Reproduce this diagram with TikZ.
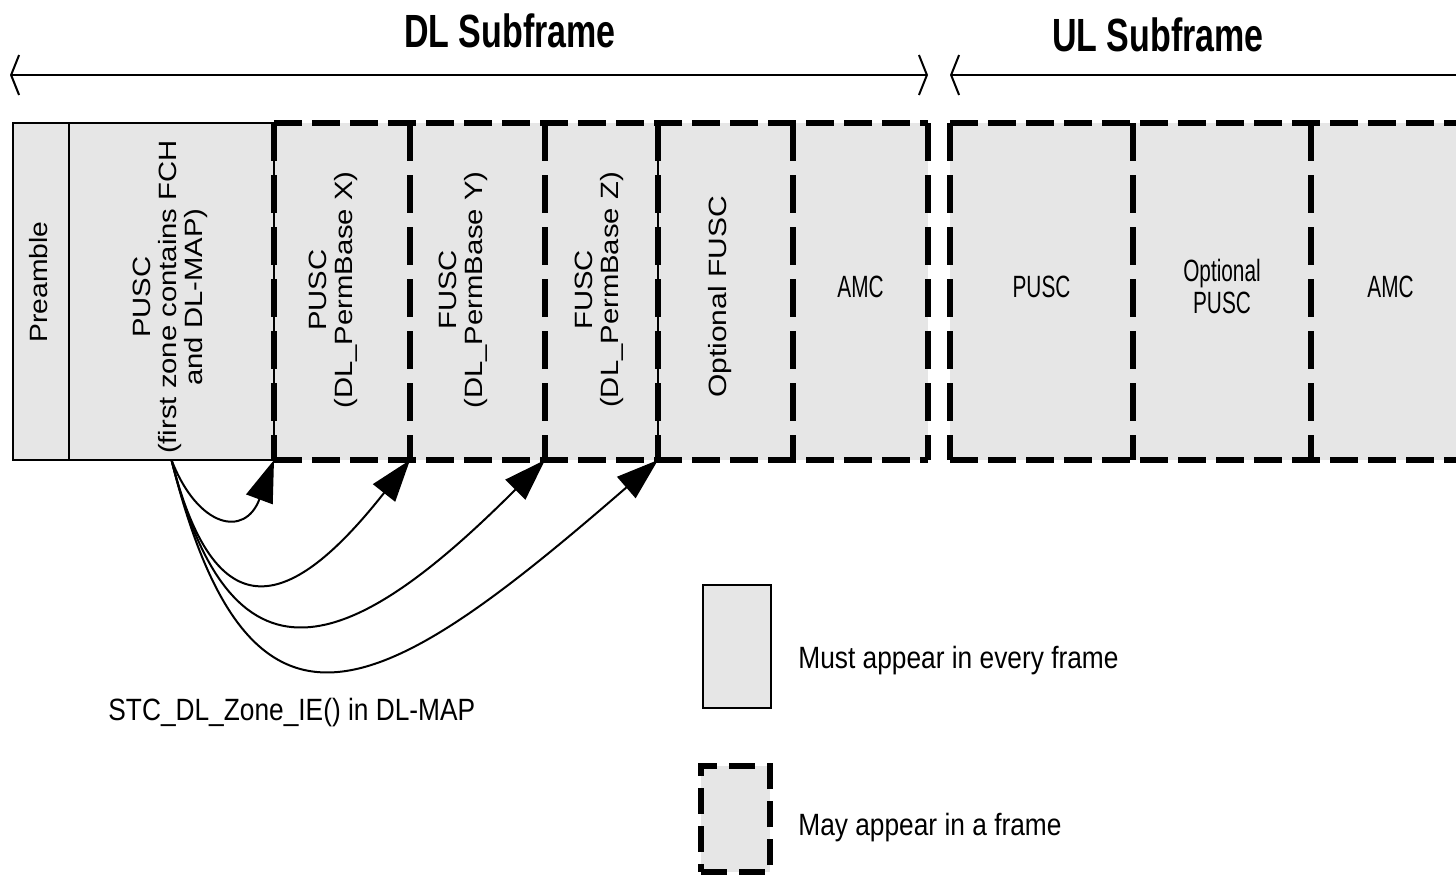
\documentclass[tikz,border=0pt]{standalone}
\usepackage{fontspec}
\setmainfont{Liberation Sans}
\usetikzlibrary{arrows.meta}
\definecolor{boxgray}{HTML}{E6E6E6}
\newcommand{\rlab}[2]{\scalebox{#1}[1]{\begin{tabular}{@{}c@{}}#2\end{tabular}}}
\newcommand{\hlab}[1]{\scalebox{1}[1.48]{\begin{tabular}{@{}c@{}}#1\end{tabular}}}
\newcommand{\tlab}[1]{\scalebox{1}[1.17]{#1}}
\begin{document}
\begin{tikzpicture}[x=0.5pt, y=-0.5pt,
  zone/.style={fill=boxgray, draw=none, inner sep=0pt, outer sep=0pt, minimum height=168.5pt,
               font=\fontsize{10.4}{10.8}\selectfont},
  hdash/.style={line width=2.8pt, dash pattern=on 14pt off 5pt},
  vdash/.style={line width=2.8pt, dash pattern=on 19pt off 7pt},
  frameline/.style={line width=1pt},
  spanline/.style={line width=1pt},
  rot/.style={rotate=90, font=\fontsize{12.5}{13}\selectfont, inner sep=0pt},
  legendtext/.style={font=\fontsize{13.15}{15}\selectfont, anchor=west, inner sep=0pt},
  titletext/.style={font=\fontsize{17}{20}\selectfont\bfseries, inner sep=0pt},
  link/.style={line width=1pt, -{Triangle[length=21pt,width=14pt]}},
  barb/.tip={Straight Barb[length=4pt,width=20pt,line width=1pt]}
]
\clip (0,0) rectangle (1456,875);
\useasboundingbox (0,0) rectangle (1456,875);

% titles
\node[titletext] (dlt) at (510,31) {\scalebox{1}[1.37]{DL Subframe}};
\node[titletext] (ult) at (1158,35) {\scalebox{1}[1.37]{UL Subframe}};

% span arrows
\coordinate (dlL) at (10,75);
\coordinate (dlR) at (928,75);
\coordinate (ulL) at (950,75);
\coordinate (ulR) at (1480,75);
\draw[spanline, barb-barb] (dlL) -- (dlR);
\draw[spanline, barb-] (ulL) -- (ulR);

% zones (fills)
\node[zone, minimum width=28pt]   (pre)  at (41,291.5) {};
\node[zone, minimum width=102.5pt] (pz)  at (171.5,291.5) {};
\node[zone, minimum width=68pt]   (px)   at (342,291.5) {};
\node[zone, minimum width=67.5pt] (py)   at (477.5,291.5) {};
\node[zone, minimum width=56.5pt] (pzz)  at (601.5,291.5) {};
\node[zone, minimum width=67.5pt] (of)   at (725.5,291.5) {};
\node[zone, minimum width=67.5pt] (amc)  at (860.5,291.5) {\hlab{AMC}};
\node[zone, minimum width=91.5pt] (upusc) at (1041.5,291.5) {\hlab{PUSC}};
\node[zone, minimum width=89pt]   (uopt)  at (1222,291.5) {\hlab{Optional\\PUSC}};
\node[zone, minimum width=79.5pt] (uamc)  at (1390.5,291.5) {\hlab{AMC}};

% rotated labels
\node[rot] (preL) at (42,282) {\rlab{1.13}{Preamble}};
\node[rot] (pzL)  at (171,297) {\rlab{1.17}{PUSC\\(first zone contains FCH\\and DL-MAP)}};
\node[rot] (pxL)  at (334,290) {\rlab{1.17}{PUSC\\(DL\_PermBase X)}};
\node[rot] (pyL)  at (464,290) {\rlab{1.17}{FUSC\\(DL\_PermBase Y)}};
\node[rot] (pzzL) at (600,290) {\rlab{1.17}{FUSC\\(DL\_PermBase Z)}};
\node[rot] (ofL)  at (721,297) {\rlab{1.2}{Optional FUSC}};

% solid frame
\draw[frameline] (pre.north west) rectangle (pz.south east);
\draw[frameline] (pre.north east) -- (pre.south east);
\draw[frameline] (pzz.north east) -- (pzz.south east);

% DL dashed borders
\draw[hdash] (px.north west) -- (amc.north east);
\draw[hdash] (px.south west) -- (amc.south east);
\draw[vdash] (px.north west) -- (px.south west);
\draw[vdash] (py.north west) -- (py.south west);
\draw[vdash] (pzz.north west) -- (pzz.south west);
\draw[vdash] (of.north west) -- (of.south west);
\draw[vdash] (amc.north west) -- (amc.south west);
\draw[vdash] (amc.north east) -- (amc.south east);

% UL dashed borders
\draw[hdash] (upusc.north west) -- (uamc.north east);
\draw[hdash] (upusc.south west) -- (uamc.south east);
\draw[vdash] (upusc.north west) -- (upusc.south west);
\draw[vdash] (uopt.north west) -- (uopt.south west);
\draw[vdash] (uamc.north west) -- (uamc.south west);

% STC links
\draw[link] (pz.south) .. controls (198,528) and (245,538) .. (pz.south east);
\draw[link] (pz.south) .. controls (218,644) and (298,602) .. (px.south east);
\draw[link] (pz.south) .. controls (234,712) and (361,644) .. (py.south east);
\draw[link] (pz.south) .. controls (251,780) and (386,696) .. (pzz.south east);
\node[legendtext] (stc) at (108,713) {\tlab{STC\_DL\_Zone\_IE() in DL-MAP}};

% legend
\node[fill=boxgray, draw, line width=1pt, inner sep=0pt, minimum width=34pt, minimum height=61.5pt] (lgs) at (737,646.5) {};
\node[fill=boxgray, draw, line width=2.8pt, dash pattern=on 13pt off 6pt, inner sep=0pt, minimum width=34.5pt, minimum height=53pt] (lgd) at (735.5,819) {};
\node[legendtext] (lgsT) at (798,661) {\tlab{Must appear in every frame}};
\node[legendtext] (lgdT) at (798,828) {\tlab{May appear in a frame}};
\end{tikzpicture}
\end{document}
